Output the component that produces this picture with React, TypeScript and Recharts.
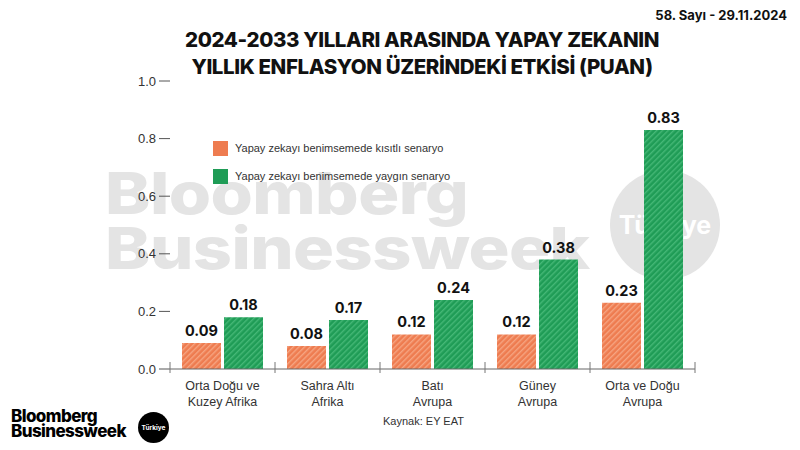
import { BarChart, Bar, XAxis, YAxis, LabelList } from 'recharts';

const regions = [
  'Orta Doğu ve\nKuzey Afrika',
  'Sahra Altı\nAfrika',
  'Batı\nAvrupa',
  'Güney\nAvrupa',
  'Orta ve Doğu\nAvrupa',
];
const restricted = [0.09, 0.08, 0.12, 0.12, 0.23];
const widespread = [0.18, 0.17, 0.24, 0.38, 0.83];
const yTicks = [0, 0.2, 0.4, 0.6, 0.8, 1.0];

const seriesNames = {
  restricted: 'Yapay zekayı benimsemede kısıtlı senaryo',
  widespread: 'Yapay zekayı benimsemede yaygın senaryo',
};

const ORANGE = '#EE7C50';
const GREEN = '#1F9C56';
const FONT = '"Liberation Sans", Arial, sans-serif';

const chartData = regions.map((region, i) => ({
  region,
  restricted: restricted[i],
  widespread: widespread[i],
}));

function RegionTick(props: any) {
  const { x, y, payload, index } = props;
  const half = payload?.offset || 52.5;
  const lines = String(payload.value).split('\n');
  return (
    <g>
      <line x1={x - half} x2={x - half} y1={y - 4} y2={y - 15} stroke="#777" strokeWidth={1} />
      {index === regions.length - 1 && (
        <line x1={x + half} x2={x + half} y1={y - 4} y2={y - 15} stroke="#777" strokeWidth={1} />
      )}
      <text x={x} y={y} textAnchor="middle" fontFamily={FONT} fontSize={12.5} fill="#333">
        {lines.map((l, i) => (
          <tspan key={i} x={x} dy={i === 0 ? 13 : 16}>
            {l}
          </tspan>
        ))}
      </text>
    </g>
  );
}

function LegendBox() {
  const items = [
    { color: ORANGE, label: seriesNames.restricted },
    { color: GREEN, label: seriesNames.widespread },
  ];
  return (
    <div style={{ position: 'absolute', left: 213, top: 134, fontFamily: FONT }}>
      {items.map((it) => (
        <div key={it.label} style={{ display: 'flex', alignItems: 'center', height: 28 }}>
          <div style={{ width: 15, height: 15, background: it.color, marginRight: 7 }} />
          <span style={{ fontSize: 11, color: '#333' }}>{it.label}</span>
        </div>
      ))}
    </div>
  );
}

export default function App() {
  return (
    <div
      style={{
        position: 'fixed',
        left: 0,
        top: 0,
        width: 800,
        height: 450,
        background: '#fff',
        overflow: 'hidden',
        fontFamily: FONT,
      }}
    >
      {/* watermark */}
      <div
        style={{
          position: 'absolute',
          left: 105,
          top: 166,
          fontFamily: 'Inter, "Liberation Sans", sans-serif',
          fontWeight: 800,
          fontSize: 58,
          lineHeight: '55px',
          letterSpacing: -0.5,
          color: '#e4e4e4',
          transform: 'scaleX(1.18)',
          transformOrigin: 'left top',
          whiteSpace: 'nowrap',
        }}
      >
        <div>Bloomberg</div>
        <div>Businessweek</div>
      </div>
      <div
        style={{
          position: 'absolute',
          left: 610,
          top: 170,
          width: 110,
          height: 110,
          borderRadius: '50%',
          background: '#e4e4e4',
          color: '#fff',
          display: 'flex',
          alignItems: 'center',
          justifyContent: 'center',
          fontFamily: 'Inter, sans-serif',
          fontWeight: 700,
          fontSize: 25,
        }}
      >
        Türkiye
      </div>

      <div
        style={{
          position: 'absolute',
          right: 13,
          top: 7,
          fontFamily: 'Inter, sans-serif',
          fontWeight: 700,
          fontSize: 13,
          color: '#111',
        }}
      >
        58. Sayı - 29.11.2024
      </div>

      <div
        style={{
          position: 'absolute',
          left: 0,
          width: 844,
          top: 26,
          textAlign: 'center',
          fontFamily: 'Inter, sans-serif',
          fontWeight: 800,
          fontSize: 20.5,
          lineHeight: '27px',
          letterSpacing: -0.4,
          color: '#111',
        }}
      >
        <div>2024-2033 YILLARI ARASINDA YAPAY ZEKANIN</div>
        <div>YILLIK ENFLASYON ÜZERİNDEKİ ETKİSİ (PUAN)</div>
      </div>

      <LegendBox />

      <div style={{ position: 'absolute', left: 0, top: 0 }}>
        <BarChart
          width={800}
          height={450}
          data={chartData}
          margin={{ top: 81, right: 105, bottom: 51, left: 140 }}
          barGap={3}
          barSize={39}
        >
          <defs>
            <pattern id="hatchOrange" patternUnits="userSpaceOnUse" width={4} height={4} patternTransform="rotate(45)">
              <rect width={4} height={4} fill={ORANGE} />
              <rect width={1.4} height={4} fill="#F6A582" />
            </pattern>
            <pattern id="hatchGreen" patternUnits="userSpaceOnUse" width={4} height={4} patternTransform="rotate(45)">
              <rect width={4} height={4} fill={GREEN} />
              <rect width={1.4} height={4} fill="#45B877" />
            </pattern>
          </defs>
          <XAxis
            dataKey="region"
            height={30}
            axisLine={{ stroke: '#666', strokeWidth: 1 }}
            tickLine={false}
            interval={0}
            tick={<RegionTick />}
          />
          <YAxis
            width={30}
            domain={[0, 1]}
            ticks={yTicks}
            axisLine={false}
            tickLine={{ stroke: '#555', strokeWidth: 1 }}
            tickSize={11}
            tickMargin={3}
            tickFormatter={(v: number) => v.toFixed(1)}
            tick={{ fill: '#333', fontSize: 13, fontFamily: FONT }}
          />
          <Bar dataKey="restricted" name={seriesNames.restricted} fill="url(#hatchOrange)" isAnimationActive={false}>
            <LabelList
              dataKey="restricted"
              position="top"
              offset={7}
              formatter={(v: number) => v.toFixed(2)}
              style={{ fill: '#111', fontWeight: 700, fontSize: 14.5, fontFamily: 'Inter, sans-serif' }}
            />
          </Bar>
          <Bar dataKey="widespread" name={seriesNames.widespread} fill="url(#hatchGreen)" isAnimationActive={false}>
            <LabelList
              dataKey="widespread"
              position="top"
              offset={7}
              formatter={(v: number) => v.toFixed(2)}
              style={{ fill: '#111', fontWeight: 700, fontSize: 14.5, fontFamily: 'Inter, sans-serif' }}
            />
          </Bar>
        </BarChart>
      </div>

      <div style={{ position: 'absolute', left: 383, top: 415, fontSize: 11, color: '#333' }}>Kaynak: EY EAT</div>

      {/* logo */}
      <div
        style={{
          position: 'absolute',
          left: 11,
          top: 409,
          fontFamily: 'Inter, sans-serif',
          fontWeight: 800,
          fontSize: 17,
          lineHeight: '15px',
          letterSpacing: -0.6,
          color: '#000',
        }}
      >
        <div>Bloomberg</div>
        <div>Businessweek</div>
      </div>
      <div
        style={{
          position: 'absolute',
          left: 138,
          top: 412,
          width: 31,
          height: 31,
          borderRadius: '50%',
          background: '#000',
          color: '#fff',
          display: 'flex',
          alignItems: 'center',
          justifyContent: 'center',
          fontFamily: 'Inter, sans-serif',
          fontWeight: 700,
          fontSize: 6.5,
        }}
      >
        Türkiye
      </div>
    </div>
  );
}
